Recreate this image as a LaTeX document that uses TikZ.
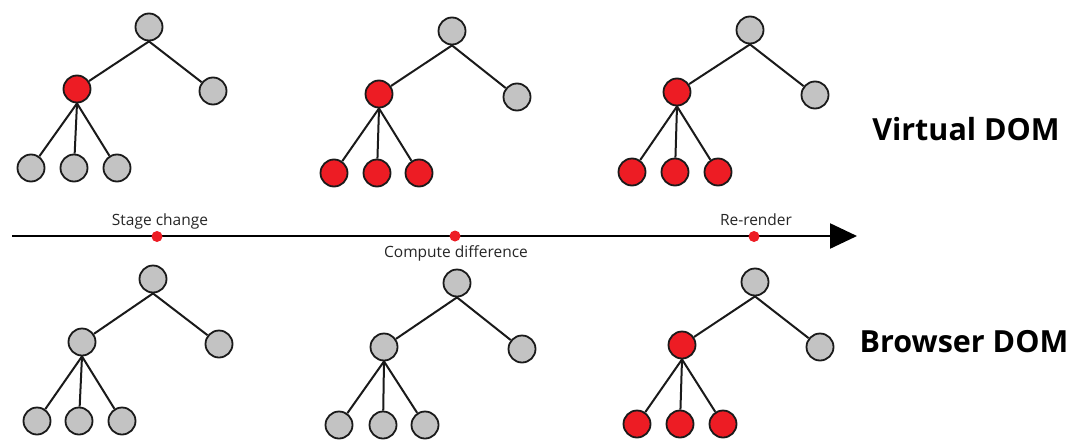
\documentclass[tikz,border=0pt]{standalone}
\usepackage{fontspec}
\setmainfont{Open Sans}
\usetikzlibrary{arrows.meta}
\definecolor{domred}{HTML}{ED1C24}
\definecolor{domgray}{HTML}{C3C3C3}
\definecolor{domline}{HTML}{1A1A1A}
\tikzset{
  gnode/.style={circle, draw=domline, line width=1.8pt, fill=domgray, minimum size=27pt, inner sep=0pt},
  rnode/.style={gnode, fill=domred},
  edge/.style={draw=domline, line width=2pt},
  tldot/.style={circle, fill=domred, minimum size=11pt, inner sep=0pt},
  smalllabel/.style={font=\fontsize{15.5}{17}\selectfont, text=black!85, inner sep=0pt},
  biglabel/.style={font=\fontsize{30.5}{34}\selectfont\bfseries, text=black, inner sep=0pt},
}
\newcommand{\domtree}[9]{%
  \node[gnode] (#1r) at (#2) {};
  \node[#8] (#1a) at (#3) {};
  \node[gnode] (#1b) at (#4) {};
  \node[#9] (#1c) at (#5) {};
  \node[#9] (#1d) at (#6) {};
  \node[#9] (#1e) at (#7) {};
  \draw[edge] (#1r.south) -- (#1a);
  \draw[edge] (#1r.south) -- (#1b);
  \draw[edge] (#1a.south) -- (#1c);
  \draw[edge] (#1a.south) -- (#1d);
  \draw[edge] (#1a.south) -- (#1e);
}
\begin{document}
\begin{tikzpicture}[x=1pt, y=-1pt]
\useasboundingbox (0,0) rectangle (1075,439);
% Virtual DOM trees
\domtree{va}{149,27}{77,89}{213,91}{31,168}{74,168}{117,168}{rnode}{gnode}
\domtree{vb}{452,31}{379,94}{517,97}{334,173}{377,173}{419,173}{rnode}{rnode}
\domtree{vc}{750,30}{677,92}{815,95}{632,172}{675,172}{718,172}{rnode}{rnode}
% Browser DOM trees
\domtree{ba}{153,279}{82,342}{219,344}{37,421}{79,421}{122,421}{gnode}{gnode}
\domtree{bb}{457,283}{384,347}{522,349}{339,425}{383,425}{425,425}{gnode}{gnode}
\domtree{bc}{755,282}{682,345}{820,347}{637,424}{680,424}{723,424}{rnode}{rnode}
% timeline
\coordinate (tlstart) at (12,236);
\coordinate (tlend) at (857,236);
\draw[line width=2.4pt, black, -{Triangle[length=27pt,width=25pt]}] (tlstart) -- (tlend);
\node[tldot] (d1) at (157,236.5) {};
\node[tldot] (d2) at (455,236) {};
\node[tldot] (d3) at (754,236.5) {};
\node[smalllabel, anchor=base] (l1) at (160,225) {Stage change};
\node[smalllabel, anchor=base] (l2) at (456,257) {Compute difference};
\node[smalllabel, anchor=base] (l3) at (756,225) {Re-render};
% side labels
\node[biglabel, anchor=base] (vdom) at (966,140) {Virtual DOM};
\node[biglabel, anchor=base] (bdom) at (964,352) {Browser DOM};
\end{tikzpicture}
\end{document}
